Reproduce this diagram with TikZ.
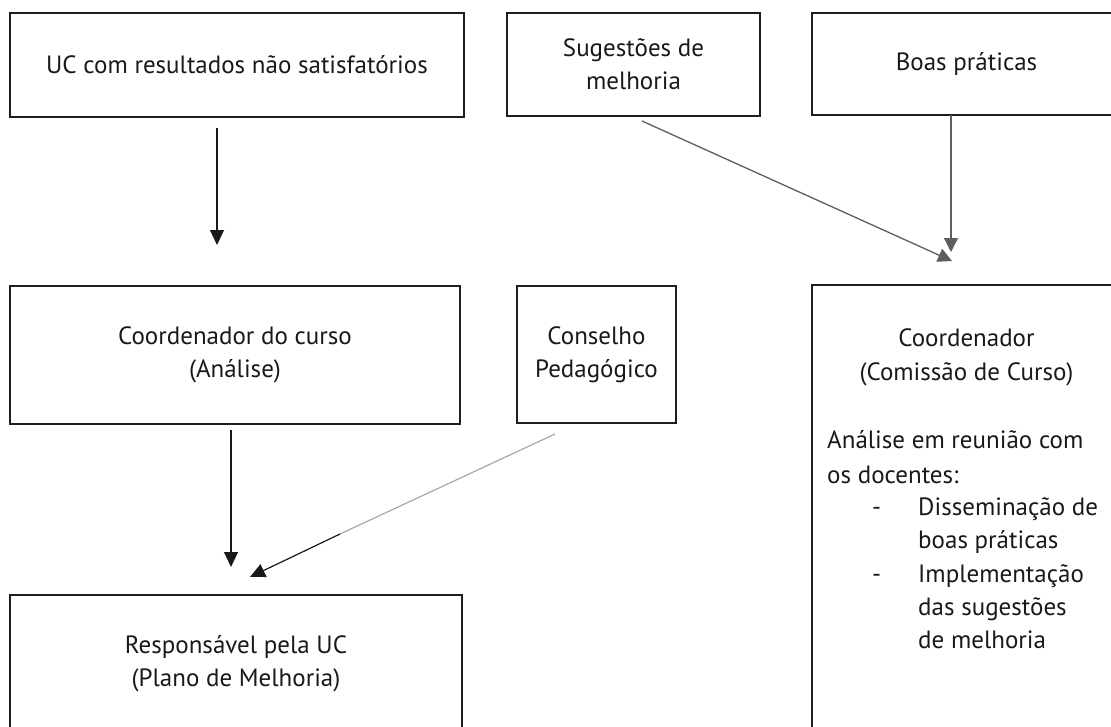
\documentclass[tikz,border=0pt]{standalone}
\usepackage{fontspec}
\setmainfont{PT Sans}
\usetikzlibrary{arrows.meta}
\definecolor{boxline}{HTML}{1E1E1E}
\definecolor{arrgray}{HTML}{5E5E5E}
\definecolor{lightarr}{HTML}{A8A8A8}
\tikzset{
  box/.style={draw=boxline, line width=1.3pt, rectangle, inner sep=0pt, align=center,
    font=\fontsize{25}{33}\selectfont, text=black!90},
  txt/.style={inner sep=0pt, font=\fontsize{25}{33}\selectfont, text=black!90},
  blackarrow/.style={draw=black!90, line width=1.2pt, -{Triangle[length=15pt,width=14pt]}},
  grayarrow/.style={draw=arrgray, line width=1.3pt, -{Triangle[length=14pt,width=14pt]}},
}
\begin{document}
\begin{tikzpicture}[x={(1pt,0)}, y={(0,-1pt)}]
\useasboundingbox (0,0) rectangle (1111,726);
% boxes
\node[box, minimum width=454pt, minimum height=104pt] (uc) at (237,65) {UC com resultados não satisfatórios};
\node[box, minimum width=253pt, minimum height=103pt] (sug) at (633.5,64.5) {Sugestões de\\melhoria};
\node[box, minimum width=309pt, minimum height=102pt] (boas) at (966.5,64) {Boas práticas};
\node[box, minimum width=450pt, minimum height=138pt] (coordc) at (235,355) {Coordenador do curso\\(Análise)};
\node[box, minimum width=159pt, minimum height=137pt] (cons) at (596.5,354.5) {Conselho\\Pedagógico};
\node[box, minimum width=309pt, minimum height=475pt] (comis) at (966.5,522.5) {};
\node[box, minimum width=452pt, minimum height=137pt] (resp) at (236,663.5) {Responsável pela UC\\(Plano de Melhoria)};
% text of the right-hand box
\node[txt, anchor=base] (t1) at (966.5,346) {Coordenador};
\node[txt, anchor=base] (t2) at (966.5,380) {(Comissão de Curso)};
\node[txt, anchor=base west] (t3) at (827,448) {Análise em reunião com};
\node[txt, anchor=base west] (t4) at (827,483) {os docentes:};
\node[txt, anchor=base west] (t5) at (872,515) {-};
\node[txt, anchor=base west] (t6) at (918,515) {Disseminação de};
\node[txt, anchor=base west] (t7) at (918,548) {boas práticas};
\node[txt, anchor=base west] (t8) at (872,582) {-};
\node[txt, anchor=base west] (t9) at (918,582) {Implementação};
\node[txt, anchor=base west] (t10) at (918,615) {das sugestões};
\node[txt, anchor=base west] (t11) at (918,648) {de melhoria};
% arrow end points
\coordinate (a1s) at (217,128);
\coordinate (a1e) at (217,245);
\coordinate (a2s) at (231,430);
\coordinate (a2e) at (231,567);
\coordinate (a3s) at (555,434);
\coordinate (a3m) at (340,534);
\coordinate (a3e) at (250,577);
\coordinate (a4s) at (642,121);
\coordinate (a4e) at (952,261);
\coordinate (a5s) at (951,115);
\coordinate (a5e) at (951,252);
% arrows
\draw[blackarrow] (a1s) -- (a1e);
\draw[blackarrow] (a2s) -- (a2e);
\draw[draw=lightarr, line width=1.2pt] (a3s) -- (a3m);
\draw[blackarrow] (a3m) -- (a3e);
\draw[grayarrow] (a4s) -- (a4e);
\draw[grayarrow] (a5s) -- (a5e);
\end{tikzpicture}
\end{document}
